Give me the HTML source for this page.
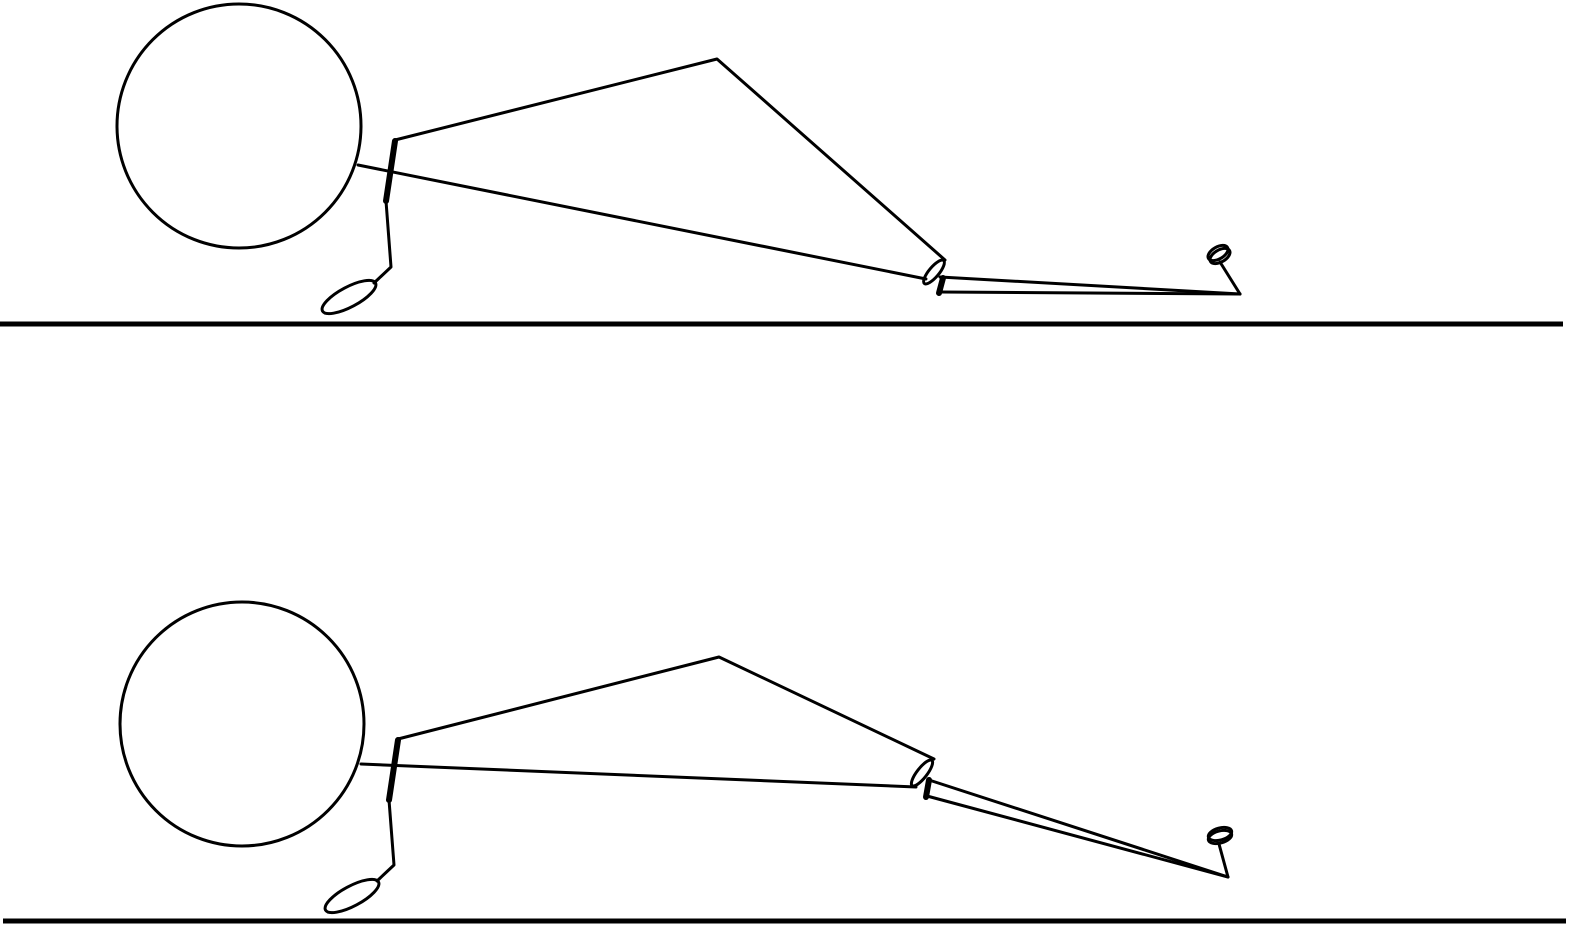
<!DOCTYPE html>
<html><head><meta charset="utf-8"><style>html,body{margin:0;padding:0;background:#fff}svg{display:block}</style></head>
<body>
<svg width="1579" height="932" viewBox="0 0 1579 932" fill="none" stroke="#000" stroke-width="3" stroke-linecap="round" stroke-linejoin="round">
<g>
  <circle cx="239" cy="126" r="122"/>
  <line x1="358" y1="165" x2="926" y2="279"/>
  <polyline points="395,140 717,59 945,260"/>
  <line x1="395" y1="141" x2="386" y2="201" stroke-width="6"/>
  <polyline points="386,201 391,267 374,283"/>
  <ellipse cx="349" cy="297" rx="30" ry="10" transform="rotate(-28 349 297)"/>
  <ellipse cx="934" cy="272" rx="15" ry="5" transform="rotate(-50 934 272)"/>
  <line x1="940" y1="277" x2="1240" y2="294"/>
  <line x1="940" y1="292" x2="1240" y2="294"/>
  <line x1="943" y1="278" x2="939" y2="293" stroke-width="6"/>
  <line x1="1240" y1="294" x2="1220" y2="262"/>
  <ellipse cx="1218" cy="253" rx="11" ry="6" transform="rotate(-30 1218 253)"/>
  <ellipse cx="1220" cy="256" rx="11" ry="6" transform="rotate(-30 1220 256)"/>
  <line x1="0" y1="324" x2="1563" y2="324" stroke-width="5" stroke-linecap="butt"/>
</g>
<g>
  <circle cx="242" cy="724" r="122"/>
  <line x1="361" y1="764" x2="916" y2="787"/>
  <polyline points="398,739 719,657 934,759"/>
  <line x1="398" y1="740" x2="389" y2="800" stroke-width="6"/>
  <polyline points="389,800 394,865 377,881"/>
  <ellipse cx="352" cy="896" rx="30" ry="10" transform="rotate(-28 352 896)"/>
  <ellipse cx="922" cy="773" rx="16" ry="5" transform="rotate(-52 922 773)"/>
  <line x1="929" y1="780" x2="1228" y2="877"/>
  <line x1="927" y1="796" x2="1228" y2="877"/>
  <line x1="929" y1="780" x2="926" y2="797" stroke-width="6"/>
  <line x1="1228" y1="877" x2="1219" y2="844"/>
  <ellipse cx="1220" cy="834" rx="12" ry="6" transform="rotate(-15 1220 834)"/>
  <ellipse cx="1220" cy="837" rx="12" ry="6" transform="rotate(-15 1220 837)"/>
  <line x1="3" y1="921" x2="1566" y2="921" stroke-width="5" stroke-linecap="butt"/>
</g>
</svg>
</body></html>
